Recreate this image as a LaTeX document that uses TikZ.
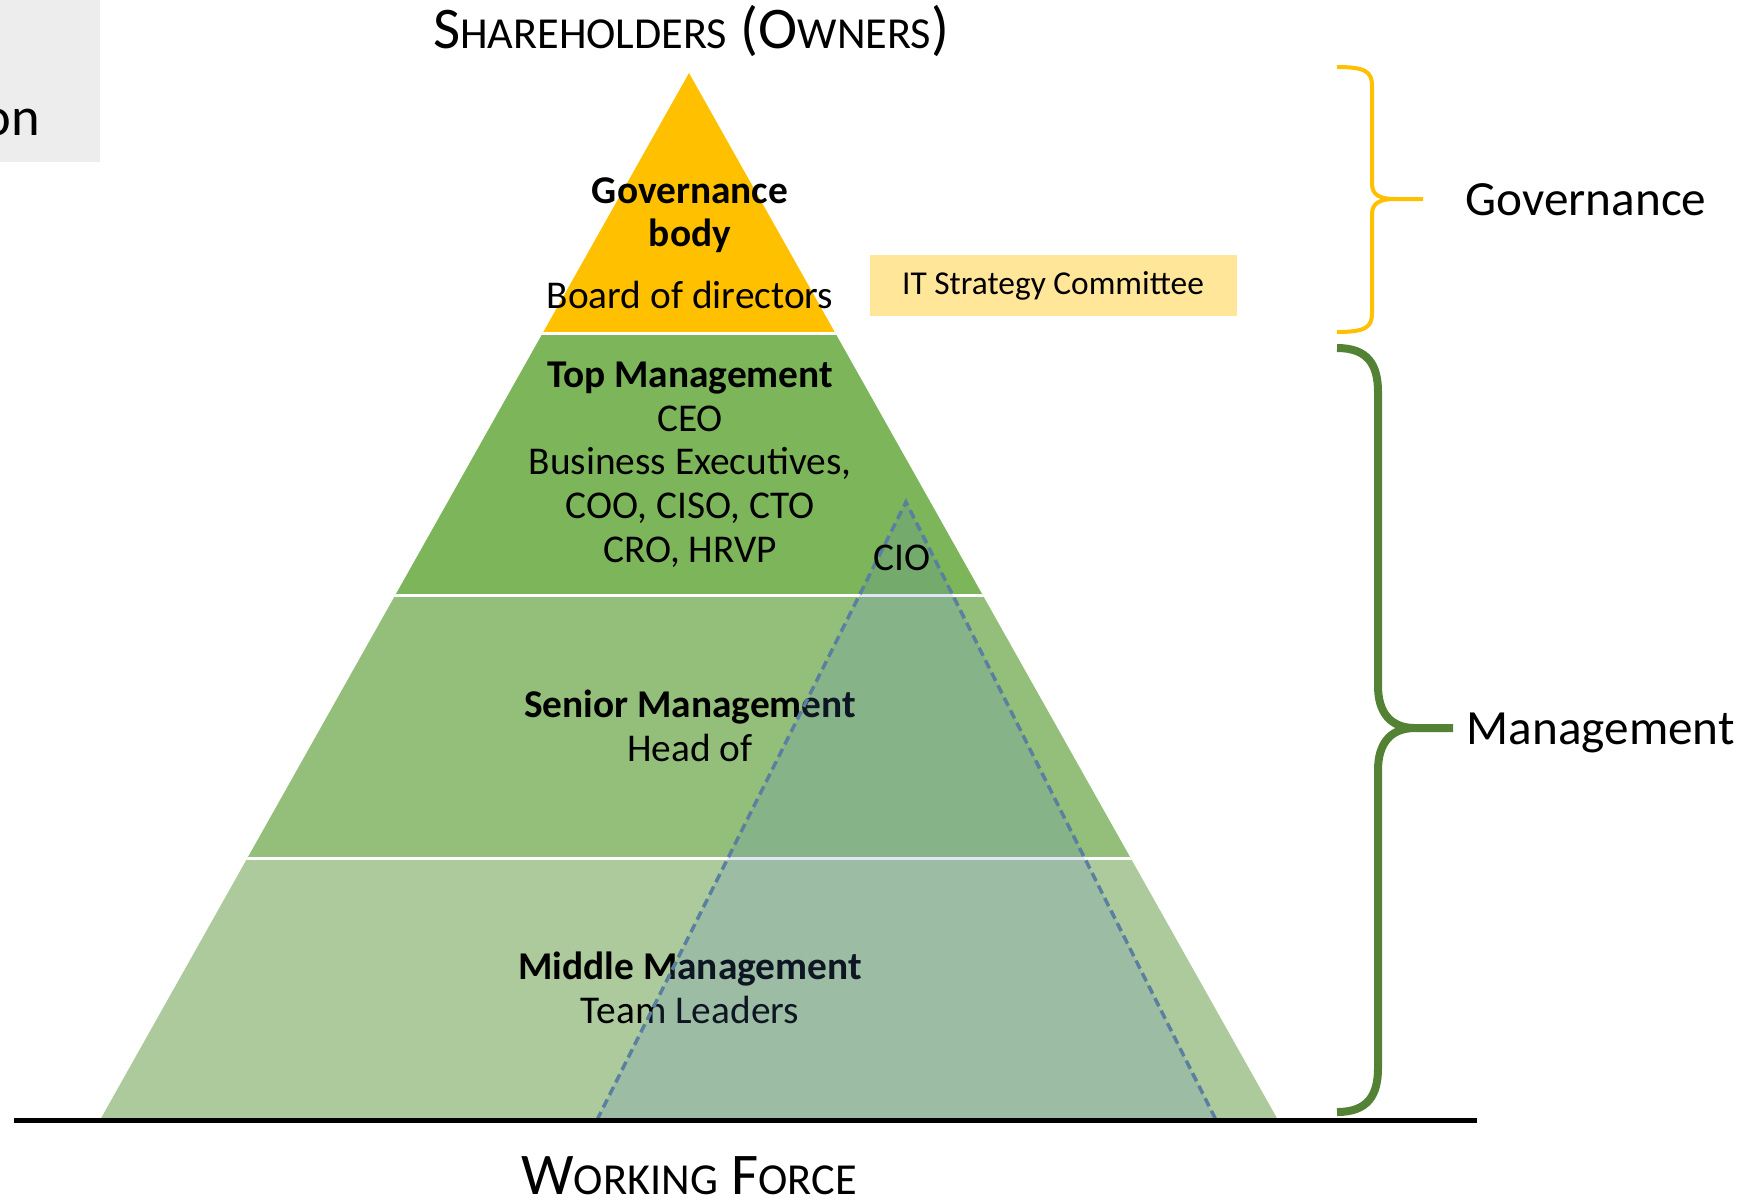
\documentclass[tikz,border=0pt]{standalone}
\usepackage{fontspec}
\setmainfont{Carlito}
\usetikzlibrary{calc}
\definecolor{govyellow}{HTML}{FFC000}
\definecolor{topgreen}{HTML}{7DB55A}
\definecolor{seniorgreen}{HTML}{93BF7A}
\definecolor{middlegreen}{HTML}{ADCA9C}
\definecolor{itbox}{HTML}{FFE699}
\definecolor{ciofill}{HTML}{4F7FC8}
\definecolor{cioline}{HTML}{5B7F9F}
\definecolor{bracegreen}{HTML}{548235}
\definecolor{greybox}{HTML}{EDEDED}
\tikzset{
  lvl/.style={font=\fontsize{11.2}{12.4}\selectfont,align=center,anchor=base,inner sep=0pt},
  side/.style={font=\fontsize{14}{16}\selectfont,anchor=base west,inner sep=0pt},
  title/.style={font=\fontsize{16.8}{19}\selectfont,anchor=base,inner sep=0pt,text depth=0pt},
  gap/.style={white,line width=0.3mm},
  brace/.style={line cap=butt,line join=round}
}
\newcommand*{\fsc}[2]{#1{\fontsize{12.6}{14}\selectfont #2}}

\begin{document}
\begin{tikzpicture}[x=0.1mm,y=-0.1mm]
\useasboundingbox (0,0) rectangle (1760,1202);
\fill[greybox] (0,0) rectangle (100,162);
\node[font=\fontsize{15.5}{18}\selectfont,inner sep=0pt,anchor=base east] (cut) at (41,135) {on};
\coordinate (apex) at (689,73);
\coordinate (bl) at (100,1120);
\coordinate (br) at (1278,1120);
\begin{scope}
\clip (apex) -- (bl) -- (br) -- cycle;
\fill[govyellow] (0,0) rectangle (1760,333);
\fill[topgreen] (0,333) rectangle (1760,595);
\fill[seniorgreen] (0,595) rectangle (1760,858);
\fill[middlegreen] (0,858) rectangle (1760,1120);
\foreach \y in {333,595,858}
  \draw[gap] (0,\y) -- (1760,\y);
\end{scope}
\node[lvl] (gov) at (690,308) {\textbf{Governance}\\\textbf{body}\\[5pt]Board of directors};
\node[lvl] (top) at (690,562) {\textbf{Top Management}\\CEO\\Business Executives,\\COO, CISO, CTO\\CRO, HRVP};
\node[lvl] (senior) at (690,761) {\textbf{Senior Management}\\Head of};
\node[lvl] (middle) at (690,1023) {\textbf{Middle Management}\\Team Leaders};
% CIO overlay
\coordinate (cioapex) at (906,502);
\coordinate (ciobl) at (597,1120);
\coordinate (ciobr) at (1216,1120);
\fill[ciofill,fill opacity=0.18] (cioapex) -- (ciobl) -- (ciobr) -- cycle;
\draw[cioline,line width=0.35mm,dash pattern=on 0.9mm off 0.5mm] (ciobl) -- (cioapex) -- (ciobr);
\node[lvl] (cio) at (902,570) {CIO};
\node[fill=itbox,minimum width=36.7mm,minimum height=6.1mm,inner sep=0pt,
  font=\fontsize{9.5}{11}\selectfont] (itsc) at (1053,285.5) {IT Strategy Committee};
\draw[line width=0.5mm] (14,1120) -- (1477,1120);
\node[title] (owners) at (691,48) {\fsc{S}{HAREHOLDERS} (\fsc{O}{WNERS})};
\node[title] (force) at (689,1194) {\fsc{W}{ORKING} \fsc{F}{ORCE}};
% braces
\draw[brace,govyellow,line width=0.4mm] (1337,67) .. controls (1366,67) and (1372,72) .. (1372,86)
  -- (1372,184) .. controls (1372,195) and (1380,199) .. (1395,199) -- (1423,199)
  (1395,199) .. controls (1380,199) and (1372,203) .. (1372,214)
  -- (1372,313) .. controls (1372,327) and (1366,332) .. (1337,332);
\draw[brace,bracegreen,line width=0.8mm] (1337,348) .. controls (1368,348) and (1378,365) .. (1378,392)
  -- (1378,686) .. controls (1378,712) and (1390,728) .. (1415,728) -- (1453,728)
  (1415,728) .. controls (1390,728) and (1378,744) .. (1378,770)
  -- (1378,1068) .. controls (1378,1095) and (1368,1112) .. (1337,1112);
\node[side] (govlabel) at (1465,215) {Governance};
\node[side] (mgmtlabel) at (1466,744) {Management};
\end{tikzpicture}
\end{document}
